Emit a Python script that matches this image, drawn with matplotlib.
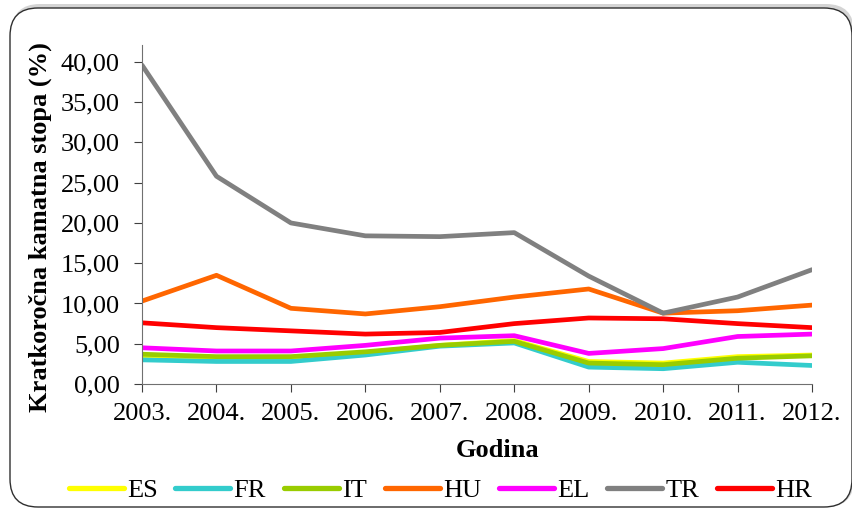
import matplotlib
matplotlib.use("Agg")
import matplotlib.pyplot as plt
from matplotlib.patches import FancyBboxPatch
from matplotlib.transforms import IdentityTransform

# Podaci: kratkoročne kamatne stope (%) po godinama
godine = ["2003.", "2004.", "2005.", "2006.", "2007.", "2008.", "2009.", "2010.", "2011.", "2012."]
es = [3.5, 3.3, 3.3, 3.9, 4.8, 5.4, 2.8, 2.6, 3.4, 3.6]
fr = [3.0, 2.8, 2.8, 3.6, 4.7, 5.1, 2.1, 1.9, 2.7, 2.3]
it = [3.7, 3.4, 3.4, 4.0, 4.8, 5.3, 2.6, 2.4, 3.2, 3.5]
hu = [10.3, 13.5, 9.4, 8.7, 9.6, 10.8, 11.8, 8.8, 9.1, 9.8]
el = [4.5, 4.1, 4.1, 4.8, 5.7, 6.0, 3.8, 4.4, 5.9, 6.2]
tr = [39.6, 25.8, 20.0, 18.4, 18.3, 18.8, 13.4, 8.8, 10.8, 14.2]
hr = [7.6, 7.0, 6.6, 6.2, 6.4, 7.5, 8.2, 8.1, 7.5, 7.0]

serije = [("ES", es, "#FFFF00"), ("FR", fr, "#33CCCC"), ("IT", it, "#99CC00"),
          ("HU", hu, "#FF6600"), ("EL", el, "#FF00FF"), ("TR", tr, "#808080"),
          ("HR", hr, "#FF0000")]

plt.rcParams["font.family"] = ["Liberation Serif", "DejaVu Serif"]

fig = plt.figure(figsize=(8.53, 5.11), dpi=100)

# okvir sa zaobljenim kutovima i blagom sjenom (u pikselima)
px = IdentityTransform()
sjena = FancyBboxPatch((12, 4), 842, 503, boxstyle="round,pad=0,rounding_size=28",
                       transform=px, facecolor="#d4d4d4", edgecolor="none", zorder=-2)
okvir = FancyBboxPatch((10, 4), 842, 499, boxstyle="round,pad=0,rounding_size=28",
                       transform=px, facecolor="white", edgecolor="#303030",
                       linewidth=1.0, zorder=-1)
fig.patches.extend([sjena, okvir])

ax = fig.add_axes([0.1665, 0.2485, 0.7855, 0.6635])
ax.set_facecolor("none")

x = list(range(len(godine)))
for ime, vrijednosti, boja in serije:
    ax.plot(x, vrijednosti, color=boja, linewidth=3.4, label=ime, solid_capstyle="round")

ax.set_xlim(0, len(godine) - 1)
ax.set_ylim(0, 42.1)
ax.set_yticks(range(0, 41, 5))
ax.set_yticklabels([f"{v},00" for v in range(0, 41, 5)], fontsize=19)
ax.set_xticks(x)
ax.set_xticklabels(godine, fontsize=19)

for s in ["top", "right"]:
    ax.spines[s].set_visible(False)
for s in ["left", "bottom"]:
    ax.spines[s].set_color("#707070")
ax.tick_params(axis="both", direction="out", length=6, color="#404040")
ax.tick_params(axis="y", pad=10)
ax.tick_params(axis="x", pad=8)

ax.set_ylabel("Kratkoročna kamatna stopa (%)", fontsize=19, fontweight="bold", va="center")
ax.yaxis.set_label_coords(-0.152, 0.463)
ax.set_xlabel("Godina", fontsize=19, fontweight="bold", va="center")
ax.xaxis.set_label_coords(0.531, -0.195)

leg = ax.legend(loc="center", bbox_to_anchor=(0.445, -0.313), ncol=7, frameon=False,
                fontsize=19, handlelength=2.08, handletextpad=0.12, columnspacing=0.68,
                borderaxespad=0, borderpad=0)
for h in leg.get_lines():
    h.set_linewidth(3.8)

fig.savefig("out.png", dpi=100)
